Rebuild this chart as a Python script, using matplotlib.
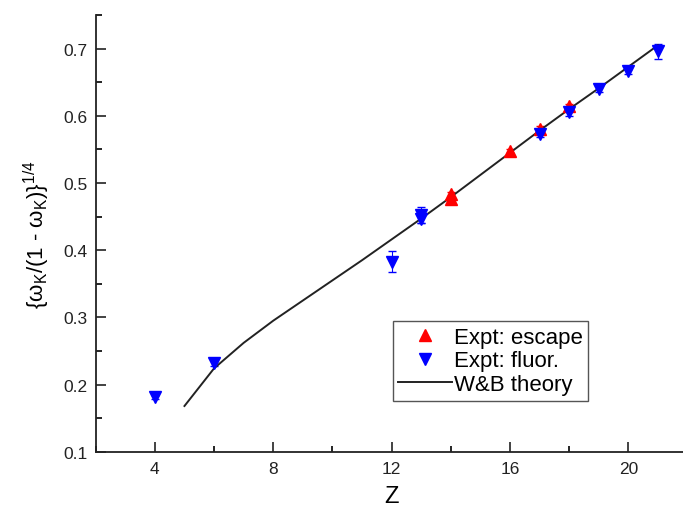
import numpy as np
import matplotlib.pyplot as plt
from matplotlib.ticker import MultipleLocator
from matplotlib.lines import Line2D

plt.rcParams['font.family'] = ['Liberation Sans', 'DejaVu Sans']
plt.rcParams['mathtext.default'] = 'regular'

# Expt: escape (red, up triangles)
z_esc = [14, 14, 16, 17, 18]
w_esc = [0.483, 0.476, 0.547, 0.581, 0.614]
e_esc = [0.004, 0.004, 0.003, 0.004, 0.004]

# Expt: fluor. (blue, down triangles)
z_flu = [4, 6, 12, 13, 13, 17, 18, 19, 20, 21]
w_flu = [0.181, 0.232, 0.383, 0.452, 0.446, 0.573, 0.605, 0.640, 0.666, 0.696]
e_flu = [0.003, 0.004, 0.016, 0.012, 0.005, 0.005, 0.005, 0.004, 0.004, 0.011]

# W&B theory curve
z_th = [5, 6, 7, 8, 9, 10, 11, 12, 13, 14, 15, 16, 17, 18, 19, 20, 21]
w_th = [0.168, 0.224, 0.262, 0.295, 0.325, 0.355, 0.385, 0.416, 0.447,
        0.479, 0.512, 0.545, 0.578, 0.610, 0.641, 0.673, 0.705]

fig = plt.figure(figsize=(6.83, 5.10), dpi=100)
ax = fig.add_axes([0.1401, 0.1124, 0.8665, 0.8561])

ax.errorbar(z_esc, w_esc, yerr=e_esc, fmt='^', color='red', ms=8.5,
            elinewidth=0.8, capsize=3)
ax.errorbar(z_flu, w_flu, yerr=e_flu, fmt='v', color='blue', ms=8.5,
            elinewidth=0.8, capsize=3)
ax.plot(z_th, w_th, color='#222222', lw=1.4)

ax.set_xlim(2, 22)
ax.set_ylim(0.1, 0.75)
ax.set_xticks([4, 8, 12, 16, 20])
ax.xaxis.set_minor_locator(MultipleLocator(2))
ax.yaxis.set_major_locator(MultipleLocator(0.1))
ax.yaxis.set_minor_locator(MultipleLocator(0.05))
ax.tick_params(which='major', direction='in', length=7, width=1.2, labelsize=12.5, colors='#222222')
ax.tick_params(which='minor', direction='in', length=4, width=1.2)
ax.tick_params(axis='x', pad=7)
ax.tick_params(axis='y', pad=6)
for s in ['top', 'right']:
    ax.spines[s].set_visible(False)
for s in ['left', 'bottom']:
    ax.spines[s].set_linewidth(1.3)
    ax.spines[s].set_color('#222222')

ax.set_xlabel('Z', fontsize=17, labelpad=6)
ax.set_ylabel('{ω$_K$/(1 - ω$_K$)}$^{1/4}$', fontsize=16, labelpad=8)

# legend with plain markers (no error bars), in reference order
handles = [
    Line2D([], [], ls='none', marker='^', color='red', ms=8.5),
    Line2D([], [], ls='none', marker='v', color='blue', ms=8.5),
    Line2D([], [], color='#222222', lw=1.4),
]
labels = ['Expt: escape', 'Expt: fluor.', 'W&B theory']
leg = ax.legend(handles, labels, loc='lower left', bbox_to_anchor=(0.502, 0.117),
                borderaxespad=0, fontsize=16, handlelength=2.4,
                handletextpad=0.1, labelspacing=0.12, borderpad=0.25,
                fancybox=False, edgecolor='#555555', framealpha=1)
leg.get_frame().set_linewidth(1.0)

fig.savefig('out.png', dpi=100)
